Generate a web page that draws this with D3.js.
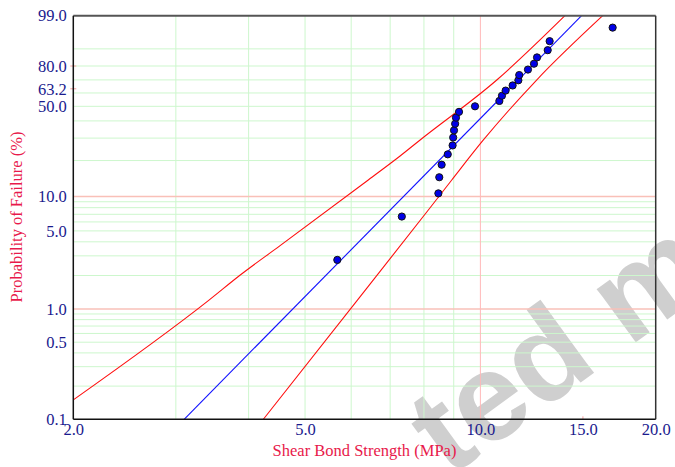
<!DOCTYPE html>
<html>
<head>
<meta charset="utf-8">
<script src="https://cdn.jsdelivr.net/npm/d3@7"></script>
<style>
  body { margin: 0; background: #fff; }
  svg { display: block; }
</style>
</head>
<body>
<div id="chart"></div>
<script>
// shear bond strength (MPa) and median-rank probability of failure (%)
const strength = [5.68, 7.33, 8.47, 8.50, 8.58, 8.79, 8.96, 8.98, 9.01, 9.05, 9.08, 9.19, 9.79,
  10.78, 10.89, 11.05, 11.36, 11.62, 11.66, 12.07, 12.36, 12.51, 13.05, 13.15, 16.87];
const failurePct = [2.76, 6.69, 10.63, 14.57, 18.50, 22.44, 26.38, 30.31, 34.25, 38.19, 42.13, 46.06, 50.00,
  53.94, 57.87, 61.81, 65.75, 69.69, 73.62, 77.56, 81.50, 85.43, 89.37, 93.31, 97.24];

// fitted Weibull line
const fitX = [3.10, 14.92];
const fitPct = [0.1, 99.0];

// confidence bounds
const upperX = [2.00, 3.42, 3.87, 4.53, 6.42, 7.28, 7.88, 10.67, 13.97];
const upperPct = [0.150, 1.20, 2.02, 3.70, 13.82, 21.76, 29.04, 69.91, 99.0];
const lowerX = [4.24, 6.15, 8.14, 8.93, 10.12, 12.49, 16.22];
const lowerPct = [0.1, 1.20, 7.63, 13.82, 29.04, 69.91, 99.0];

// axes
const xTicks = [2, 5, 10, 15, 20];
const yTicks = [0.1, 0.5, 1, 5, 10, 50, 63.2, 80, 99];
const yTickLabels = ['0.1', '0.5', '1.0', '5.0', '10.0', '50.0', '63.2', '80.0', '99.0'];
const gridX = [3, 4, 5, 6, 7, 8, 9];
const redGridX = [10];
const gridY = [0.2, 0.3, 0.4, 0.5, 0.6, 0.7, 0.8, 0.9, 2, 3, 4, 5, 6, 7, 8, 9, 20, 30, 40, 50, 60, 70, 80, 90];
const redGridY = [1, 10];
const pinkTickY = [80, 63.2];
const pinkTickX = [15];

const width = 675;
const height = 467;
const plotLeft = 73.3, plotRight = 655.7, plotTop = 15.7, plotBottom = 419.3;

const navy = '#1a1a8e';
const crimson = '#e8194b';
const font = '"Liberation Serif", "Times New Roman", serif';

const wb = p => Math.log(-Math.log(1 - p / 100));

const x = d3.scaleLog().domain([2, 20]).range([plotLeft, plotRight]);
const yW = d3.scaleLinear().domain([wb(0.1), wb(99)]).range([plotBottom, plotTop]);
const y = p => yW(wb(p));

const svg = d3.select('#chart')
  .append('svg')
  .attr('width', width)
  .attr('height', height);

// watermark
svg.append('text')
  .attr('transform', 'translate(449,478) rotate(-36)')
  .attr('font-family', '"Liberation Sans", Arial, sans-serif')
  .attr('font-weight', 'bold')
  .attr('font-size', 125)
  .attr('fill', '#cfcfcf')
  .text('ted m');

// gridlines
svg.append('g').selectAll('line')
  .data(gridY)
  .enter()
  .append('line')
  .attr('x1', plotLeft).attr('x2', plotRight)
  .attr('y1', d => y(d)).attr('y2', d => y(d))
  .attr('stroke', '#cdf7cd').attr('stroke-width', 1);

svg.append('g').selectAll('line')
  .data(gridX)
  .enter()
  .append('line')
  .attr('x1', d => x(d)).attr('x2', d => x(d))
  .attr('y1', plotTop).attr('y2', plotBottom)
  .attr('stroke', '#cdf7cd').attr('stroke-width', 1);

svg.append('g').selectAll('line')
  .data(redGridY)
  .enter()
  .append('line')
  .attr('x1', plotLeft).attr('x2', plotRight)
  .attr('y1', d => y(d)).attr('y2', d => y(d))
  .attr('stroke', '#f9c0b8').attr('stroke-width', 1.5);

svg.append('g').selectAll('line')
  .data(redGridX)
  .enter()
  .append('line')
  .attr('x1', d => x(d)).attr('x2', d => x(d))
  .attr('y1', plotTop).attr('y2', plotBottom)
  .attr('stroke', '#ffb8b8').attr('stroke-width', 1);

// small pink ticks
svg.append('g').selectAll('line')
  .data(pinkTickY)
  .enter()
  .append('line')
  .attr('x1', plotLeft - 3).attr('x2', plotLeft + 3)
  .attr('y1', d => y(d)).attr('y2', d => y(d))
  .attr('stroke', '#f7a0a0');

svg.append('g').selectAll('line')
  .data(pinkTickX)
  .enter()
  .append('line')
  .attr('x1', d => x(d)).attr('x2', d => x(d))
  .attr('y1', plotBottom - 3).attr('y2', plotBottom)
  .attr('stroke', '#f7a0a0');

// lines
const line = d3.line()
  .x(d => x(d[0]))
  .y(d => y(d[1]))
  .curve(d3.curveMonotoneX);

svg.append('clipPath').attr('id', 'plot-clip')
  .append('rect')
  .attr('x', plotLeft).attr('y', plotTop)
  .attr('width', plotRight - plotLeft).attr('height', plotBottom - plotTop);

const plot = svg.append('g').attr('clip-path', 'url(#plot-clip)');

plot.append('path')
  .datum(d3.zip(upperX, upperPct))
  .attr('d', line)
  .attr('fill', 'none')
  .attr('stroke', '#ff1010')
  .attr('stroke-width', 1.1);

plot.append('path')
  .datum(d3.zip(lowerX, lowerPct))
  .attr('d', line)
  .attr('fill', 'none')
  .attr('stroke', '#ff1010')
  .attr('stroke-width', 1.1);

plot.append('path')
  .datum(d3.zip(fitX, fitPct))
  .attr('d', d3.line().x(d => x(d[0])).y(d => y(d[1])))
  .attr('fill', 'none')
  .attr('stroke', '#1010ff')
  .attr('stroke-width', 1.1);

// points
svg.append('g').selectAll('circle')
  .data(d3.zip(strength, failurePct))
  .enter()
  .append('circle')
  .attr('cx', d => x(d[0]))
  .attr('cy', d => y(d[1]))
  .attr('r', 3.6)
  .attr('fill', '#0000e6')
  .attr('stroke', '#111')
  .attr('stroke-width', 1);

// frame
svg.append('line')
  .attr('x1', plotLeft).attr('x2', plotRight).attr('y1', plotTop).attr('y2', plotTop)
  .attr('stroke', '#555').attr('stroke-width', 2);
svg.append('line')
  .attr('x1', plotRight).attr('x2', plotRight).attr('y1', plotTop).attr('y2', plotBottom)
  .attr('stroke', '#333').attr('stroke-width', 1.5);
svg.append('line')
  .attr('x1', plotLeft).attr('x2', plotRight).attr('y1', plotBottom).attr('y2', plotBottom)
  .attr('stroke', '#111').attr('stroke-width', 1.5);
svg.append('line')
  .attr('x1', plotLeft).attr('x2', plotLeft).attr('y1', plotTop).attr('y2', plotBottom)
  .attr('stroke', '#111').attr('stroke-width', 1.5);

// axes
const xAxis = d3.axisBottom(x)
  .tickValues(xTicks)
  .tickFormat(d3.format('.1f'))
  .tickSize(0)
  .tickPadding(4);

const gx = svg.append('g')
  .attr('transform', `translate(0, ${plotBottom})`)
  .call(xAxis);
gx.select('.domain').remove();
gx.selectAll('text')
  .attr('font-family', font)
  .attr('font-size', 16.5)
  .attr('fill', navy);

const yAxis = d3.axisLeft(yW)
  .tickValues(yTicks.map(wb))
  .tickFormat((d, i) => yTickLabels[i])
  .tickSize(0)
  .tickPadding(6.5);

const gy = svg.append('g')
  .attr('transform', `translate(${plotLeft}, 0)`)
  .call(yAxis);
gy.select('.domain').remove();
gy.selectAll('text')
  .attr('font-family', font)
  .attr('font-size', 16.5)
  .attr('fill', navy);

// titles
svg.append('text')
  .attr('x', (plotLeft + plotRight) / 2)
  .attr('y', 456)
  .attr('text-anchor', 'middle')
  .attr('font-family', font)
  .attr('font-size', 16.5)
  .attr('fill', crimson)
  .text('Shear Bond Strength (MPa)');

svg.append('text')
  .attr('transform', 'translate(22, 217) rotate(-90)')
  .attr('text-anchor', 'middle')
  .attr('font-family', font)
  .attr('font-size', 16.5)
  .attr('fill', crimson)
  .text('Probability of Failure (%)');
</script>
</body>
</html>
